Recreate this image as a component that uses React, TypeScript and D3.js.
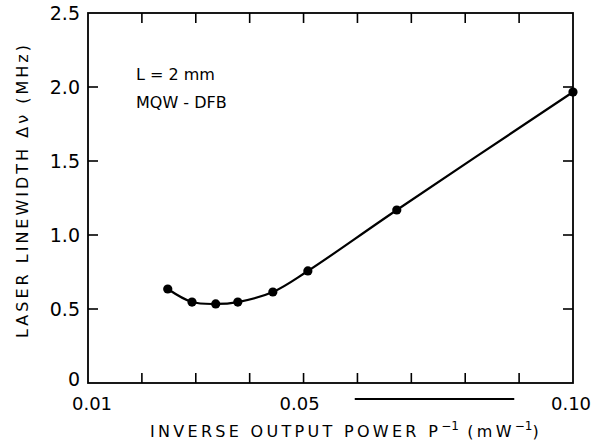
import React, { useEffect, useRef } from 'react';
import * as d3 from 'd3';

// inverse output power P^-1 (mW^-1) vs linewidth (MHz)
const invPower = [0.0248, 0.0293, 0.0337, 0.0378, 0.0443, 0.0508, 0.0673, 0.1];
const linewidth = [0.635, 0.547, 0.534, 0.547, 0.615, 0.757, 1.169, 1.966];

const xTickLabels = [0.01, 0.05, 0.1];
const xTickText = ['0.01', '0.05', '0.10'];
const yTicks = [0, 0.5, 1.0, 1.5, 2.0, 2.5];
const yTickText = ['0', '0.5', '1.0', '1.5', '2.0', '2.5'];
const xMinor = d3.range(2, 10).map((i) => i / 100);

const App = () => {
  const svgRef = useRef<SVGSVGElement | null>(null);
  const width = 598;
  const height = 444;
  const margin = { top: 13, right: 25, bottom: 61, left: 88 };
  const font = "'DejaVu Sans', Verdana, sans-serif";

  useEffect(() => {
    const svg = d3.select(svgRef.current);
    svg.selectAll('*').remove();

    const x = d3.scaleLinear().domain([0.01, 0.1]).range([margin.left, width - margin.right]);
    const y = d3.scaleLinear().domain([0, 2.5]).range([height - margin.bottom, margin.top]);

    const x0 = x(0.01), x1 = x(0.1), y0 = y(0), y1 = y(2.5);
    const tick = 10;

    // frame
    svg.append('rect')
      .attr('x', x0).attr('y', y1)
      .attr('width', x1 - x0).attr('height', y0 - y1)
      .attr('fill', 'none').attr('stroke', '#000').attr('stroke-width', 1.8);

    // x ticks bottom and top (inward)
    xMinor.forEach((v) => {
      svg.append('line').attr('x1', x(v)).attr('x2', x(v))
        .attr('y1', y0).attr('y2', y0 - tick).attr('stroke', '#000').attr('stroke-width', 1.6);
      svg.append('line').attr('x1', x(v)).attr('x2', x(v))
        .attr('y1', y1).attr('y2', y1 + tick).attr('stroke', '#000').attr('stroke-width', 1.6);
    });

    // y ticks left and right
    yTicks.slice(1, -1).forEach((v) => {
      svg.append('line').attr('x1', x0).attr('x2', x0 + tick)
        .attr('y1', y(v)).attr('y2', y(v)).attr('stroke', '#000').attr('stroke-width', 1.6);
      svg.append('line').attr('x1', x1).attr('x2', x1 - tick)
        .attr('y1', y(v)).attr('y2', y(v)).attr('stroke', '#000').attr('stroke-width', 1.6);
    });

    // tick labels
    svg.append('g').selectAll('text')
      .data(xTickLabels)
      .enter().append('text')
      .attr('x', (d) => x(d) + (d === 0.01 ? 4 : d === 0.05 ? -4 : -2))
      .attr('y', y0 + 27)
      .attr('text-anchor', 'middle')
      .attr('font-family', font).attr('font-size', 18)
      .text((d, i) => xTickText[i]);

    svg.append('g').selectAll('text')
      .data(yTicks)
      .enter().append('text')
      .attr('x', x0 - 8)
      .attr('y', (d) => y(d) + (d === 0 ? 3 : 7))
      .attr('text-anchor', 'end')
      .attr('font-family', font).attr('font-size', 19)
      .text((d, i) => yTickText[i]);

    // stray rule under the axis (as in the original print)
    svg.append('line')
      .attr('x1', x(0.0595)).attr('x2', x(0.0891))
      .attr('y1', y0 + 16).attr('y2', y0 + 16)
      .attr('stroke', '#000').attr('stroke-width', 2.2);

    // axis titles
    const xt = svg.append('text')
      .attr('x', 346).attr('y', height - 7)
      .attr('text-anchor', 'middle')
      .attr('font-family', font).attr('font-size', 16)
      .attr('letter-spacing', 3.3);
    xt.append('tspan').text('INVERSE OUTPUT POWER P');
    xt.append('tspan').attr('dy', -7).attr('font-size', 12).attr('letter-spacing', 0).text('−1');
    xt.append('tspan').attr('dy', 7).text(' (mW');
    xt.append('tspan').attr('dy', -7).attr('font-size', 12).attr('letter-spacing', 0).text('−1');
    xt.append('tspan').attr('dy', 7).text(')');

    svg.append('text')
      .attr('transform', `translate(28, ${(y0 + y1) / 2 - 8}) rotate(-90)`)
      .attr('text-anchor', 'middle')
      .attr('font-family', font).attr('font-size', 16)
      .attr('letter-spacing', 3)
      .text('LASER LINEWIDTH Δν (MHz)');

    // annotation
    svg.append('text').attr('x', 136).attr('y', 80)
      .attr('font-family', font).attr('font-size', 16).text('L = 2 mm');
    svg.append('text').attr('x', 136).attr('y', 108)
      .attr('font-family', font).attr('font-size', 16).text('MQW - DFB');

    // curve and points
    const pts: [number, number][] = invPower.map((v, i) => [v, linewidth[i]]);
    const line = d3.line<[number, number]>()
      .x((d) => x(d[0]))
      .y((d) => y(d[1]))
      .curve(d3.curveCatmullRom.alpha(0.5));

    svg.append('path')
      .attr('d', line(pts))
      .attr('fill', 'none').attr('stroke', '#000').attr('stroke-width', 2.2);

    svg.append('g').selectAll('circle')
      .data(pts)
      .enter().append('circle')
      .attr('cx', (d) => x(d[0]))
      .attr('cy', (d) => y(d[1]))
      .attr('r', 4.6)
      .attr('fill', '#000');
  }, []);

  return (
    <svg ref={svgRef} width={width} height={height}
      style={{ position: 'absolute', left: 0, top: 0, background: '#fff' }} />
  );
};

export default App;
